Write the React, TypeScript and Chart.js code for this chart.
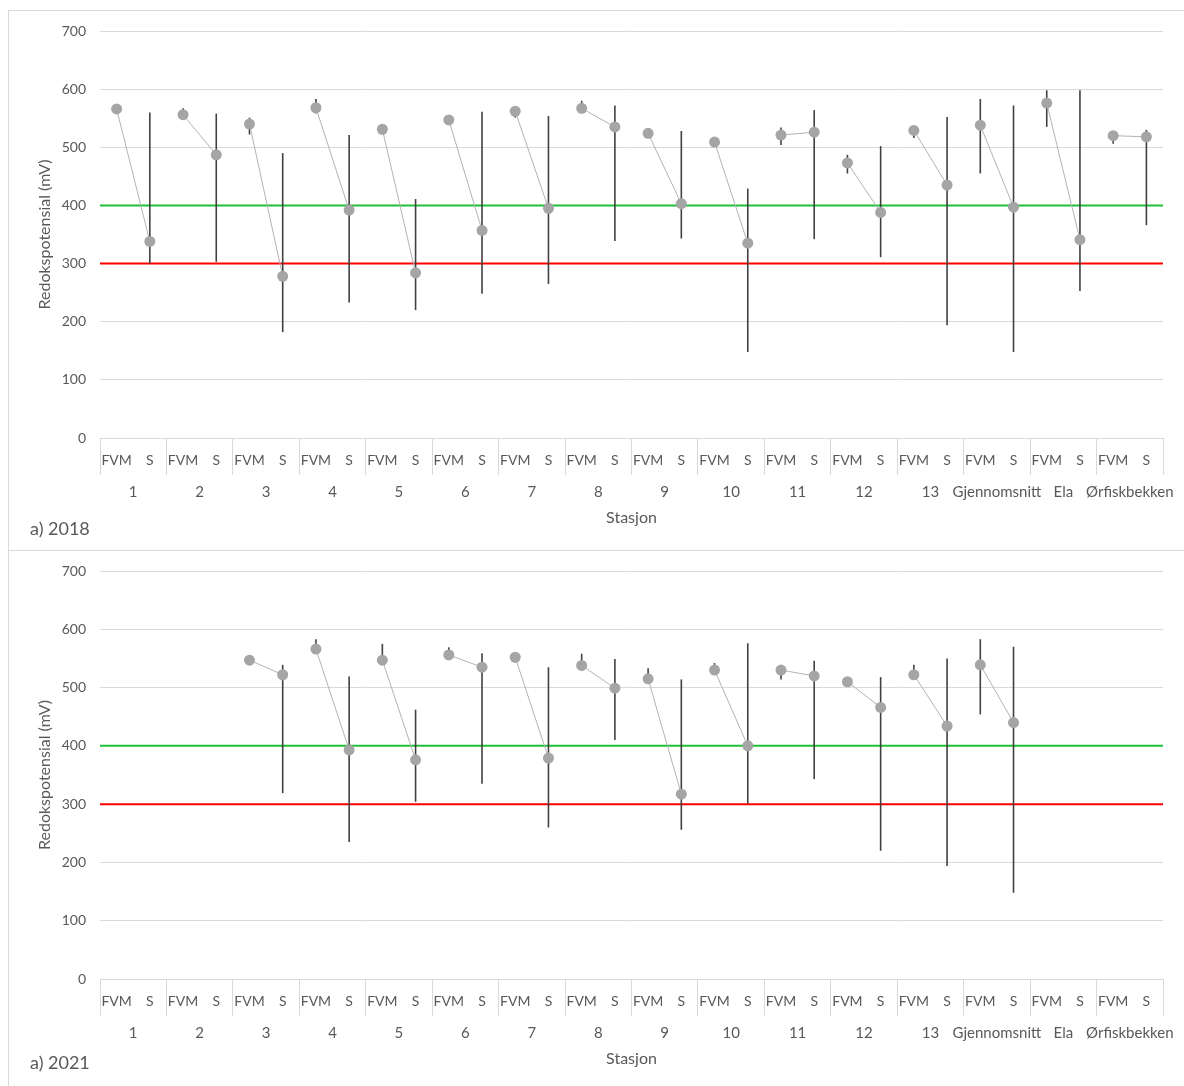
import { useEffect, useRef } from 'react';
import { Chart, registerables } from 'chart.js';

Chart.register(...registerables);

const FONT = 'Lato, "Open Sans", "Noto Sans", sans-serif';
const TEXT = '#595959';
const GRID = '#d9d9d9';

const stations = ['1', '2', '3', '4', '5', '6', '7', '8', '9', '10', '11', '12', '13', 'Gjennomsnitt', 'Ela', 'Ørfiskbekken'];
const subLabels = ['FVM', 'S'];
const yMin = 0;
const yMax = 700;
const yStep = 100;
const thresholdValues = [300, 400];
const thresholdColors = ['#ff0000', '#1fbf3a'];

// 2018
const fvm2018 = [566, 556, 540, 568, 531, 547, 562, 567, 524, 509, 521, 473, 529, 538, 576, 520];
const fvmMin2018 = [566, 556, 522, 558, 531, 547, 551, 567, 524, 509, 504, 455, 516, 455, 535, 506];
const fvmMax2018 = [566, 567, 551, 583, 531, 547, 562, 580, 524, 509, 534, 487, 529, 583, 598, 520];
const s2018 = [338, 487, 278, 392, 284, 357, 395, 535, 403, 335, 526, 388, 435, 397, 341, 518];
const sMin2018 = [300, 303, 182, 233, 220, 248, 265, 339, 343, 148, 342, 311, 194, 148, 253, 366];
const sMax2018 = [560, 558, 490, 521, 411, 561, 554, 572, 528, 429, 564, 502, 552, 572, 598, 530];

// 2021
const fvm2021 = [null, null, 547, 566, 547, 556, 552, 538, 515, 530, 530, 510, 522, 539, null, null];
const fvmMin2021 = [null, null, 547, 566, 547, 548, 543, 529, 515, 530, 514, 510, 522, 454, null, null];
const fvmMax2021 = [null, null, 547, 583, 575, 569, 552, 558, 533, 542, 530, 510, 539, 583, null, null];
const s2021 = [null, null, 522, 393, 376, 535, 379, 499, 317, 400, 520, 466, 434, 440, null, null];
const sMin2021 = [null, null, 319, 235, 304, 335, 260, 410, 256, 301, 343, 220, 194, 148, null, null];
const sMax2021 = [null, null, 539, 519, 462, 559, 535, 549, 514, 576, 546, 518, 550, 570, null, null];

type N = number | null;
const interleave = (a: N[], b: N[]): N[] => a.flatMap((v, i) => [v, b[i]]);
const categoryLabels = stations.flatMap(() => subLabels);

function makeOverlay(low: N[], high: N[]) {
  return {
    id: 'overlay',
    beforeDatasetsDraw(chart: any) {
      const { ctx, chartArea, scales } = chart;
      const x = scales.x;
      const y = scales.y;
      ctx.save();
      thresholdValues.forEach((v, k) => {
        const py = y.getPixelForValue(v);
        ctx.strokeStyle = thresholdColors[k];
        ctx.lineWidth = 2;
        ctx.beginPath();
        ctx.moveTo(chartArea.left, py);
        ctx.lineTo(chartArea.right, py);
        ctx.stroke();
      });
      ctx.strokeStyle = '#404040';
      ctx.lineWidth = 1.6;
      low.forEach((lo, i) => {
        const hi = high[i];
        if (lo == null || hi == null || hi <= lo) return;
        const px = x.getPixelForValue(i);
        ctx.beginPath();
        ctx.moveTo(px, y.getPixelForValue(lo));
        ctx.lineTo(px, y.getPixelForValue(hi));
        ctx.stroke();
      });
      ctx.restore();
    },
  };
}

interface PanelProps {
  fvm: N[]; fvmMin: N[]; fvmMax: N[];
  s: N[]; sMin: N[]; sMax: N[];
  height: number; padTop: number; padBottom: number;
}

function Panel(p: PanelProps) {
  const ref = useRef<HTMLCanvasElement | null>(null);
  useEffect(() => {
    if (!ref.current) return;
    const values = interleave(p.fvm, p.s);
    const low = interleave(p.fvmMin, p.sMin);
    const high = interleave(p.fvmMax, p.sMax);
    const tickFont = { family: FONT, size: 14 };
    const stationFont = { family: FONT, size: 15 };
    const titleFont = { family: FONT, size: 16 };
    const chart = new Chart(ref.current, {
      type: 'line',
      data: {
        labels: categoryLabels,
        datasets: [
          {
            data: values,
            xAxisID: 'x',
            yAxisID: 'y',
            borderColor: '#b3b3b3',
            borderWidth: 1,
            pointRadius: 5.5,
            pointBackgroundColor: '#a5a5a5',
            pointBorderColor: '#a5a5a5',
            pointBorderWidth: 0,
            spanGaps: false,
            segment: {
              borderColor: (ctx: any) => (ctx.p0DataIndex % 2 === 0 ? '#b3b3b3' : 'rgba(0,0,0,0)'),
            },
          } as any,
        ],
      },
      options: {
        animation: false,
        responsive: false,
        events: [],
        layout: { padding: { left: 0, right: 20, top: p.padTop, bottom: p.padBottom } },
        plugins: { legend: { display: false }, tooltip: { enabled: false } },
        scales: {
          x: {
            type: 'category',
            position: 'bottom',
            offset: true,
            grid: {
              offset: true,
              drawOnChartArea: false,
              drawTicks: true,
              tickLength: 37,
              lineWidth: 1,
              color: (ctx: any) => ((ctx.index ?? 32) % 2 === 0 ? GRID : 'rgba(0,0,0,0)'),
            },
            border: { display: true, color: GRID, width: 1 },
            ticks: { autoSkip: false, maxRotation: 0, minRotation: 0, padding: -23.4, color: TEXT, font: tickFont },
            afterFit: (s: any) => { s.height = 40; },
          },
          x2: {
            type: 'category',
            labels: stations,
            position: 'bottom',
            offset: true,
            weight: 1,
            grid: { display: false, drawTicks: false, tickLength: 0 },
            border: { display: false },
            ticks: { autoSkip: false, maxRotation: 0, minRotation: 0, padding: 5, color: TEXT, font: stationFont },
            title: { display: true, text: 'Stasjon', color: TEXT, font: titleFont, padding: { top: 0, bottom: 1 } },
            afterFit: (s: any) => { s.height = 50; },
          },
          y: {
            min: yMin,
            max: yMax,
            ticks: { stepSize: yStep, padding: 14, color: TEXT, font: tickFont },
            grid: { color: GRID, lineWidth: 1, drawTicks: false },
            border: { display: false },
            title: {
              display: true,
              text: 'Redokspotensial (mV)',
              color: TEXT,
              font: titleFont,
              padding: { top: 26.4, bottom: 0 },
            },
            afterFit: (s: any) => { s.width = 91; s.paddingTop = 0; s.paddingBottom = 0; },
          },
        },
      } as any,
      plugins: [makeOverlay(low, high)],
    });
    return () => chart.destroy();
  }, []);
  return <canvas ref={ref} width={1174} height={p.height} style={{ display: 'block', width: 1174, height: p.height }} />;
}

export default function App() {
  return (
    <div style={{ position: 'absolute', left: 0, top: 0, width: 1184, height: 1086, overflow: 'hidden', background: '#fff', fontFamily: FONT }}>
      <div style={{ position: 'absolute', left: 8, top: 10, width: 1190, height: 541, border: `1px solid ${GRID}`, boxSizing: 'border-box' }}>
        <Panel fvm={fvm2018} fvmMin={fvmMin2018} fvmMax={fvmMax2018} s={s2018} sMin={sMin2018} sMax={sMax2018} height={537} padTop={20} padBottom={20} />
      </div>
      <div style={{ position: 'absolute', left: 8, top: 550, width: 1190, height: 600, border: `1px solid ${GRID}`, boxSizing: 'border-box' }}>
        <Panel fvm={fvm2021} fvmMin={fvmMin2021} fvmMax={fvmMax2021} s={s2021} sMin={sMin2021} sMax={sMax2021} height={535} padTop={20} padBottom={17} />
      </div>
      <div style={{ position: 'absolute', left: 30, top: 518, fontSize: 18, lineHeight: '20px', color: TEXT, whiteSpace: 'nowrap' }}>a) 2018</div>
      <div style={{ position: 'absolute', left: 30, top: 1052, fontSize: 18, lineHeight: '20px', color: TEXT, whiteSpace: 'nowrap' }}>a) 2021</div>
    </div>
  );
}
